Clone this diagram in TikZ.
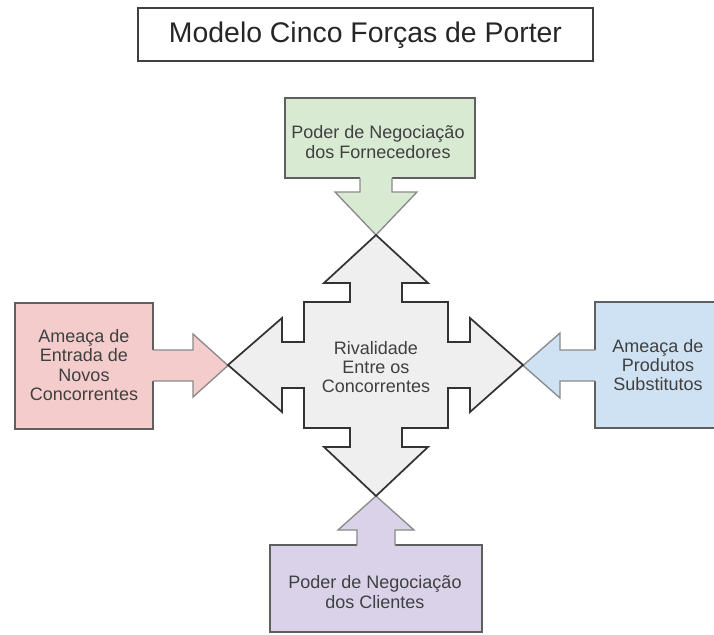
\documentclass[tikz,border=0pt]{standalone}
\usepackage{fontspec}
\setmainfont{Liberation Sans}
\usepackage{tikz}
\usetikzlibrary{calc}
\definecolor{fornecgreen}{HTML}{D9EAD3}
\definecolor{entradared}{HTML}{F4CCCC}
\definecolor{substblue}{HTML}{CFE2F3}
\definecolor{clientpurple}{HTML}{D9D2E9}
\definecolor{rivalgray}{HTML}{EFEFEF}
\definecolor{boxline}{HTML}{5F5F5F}
\definecolor{arrowline}{HTML}{8A8A8A}
\definecolor{textgray}{HTML}{404040}
\tikzset{
  forcetext/.style={inner sep=0.75pt, align=center, text=textgray,
    font=\fontsize{13.5}{14.5}\selectfont},
  boxborder/.style={draw=boxline, line width=1.3pt},
  arrowborder/.style={draw=arrowline, line width=1pt, line join=miter},
}
\begin{document}
\begin{tikzpicture}[x=0.75pt,y=0.75pt,yscale=-1,xscale=1]
  \useasboundingbox (0,0) rectangle (714,635);

  %Shape: Rectangle [title]
  \draw [line width=1.3pt, draw=black!75] (138,8) rectangle (593,61);
  % Text Node
  \node (title) at (365.5,35) [inner sep=0.75pt, text=black!85, font=\fontsize{21.3}{24}\selectfont] {Modelo Cinco Forças de Porter};

  %Shape: Rectangle [fornecedores]
  \draw [boxborder, fill=fornecgreen] (285,98) rectangle (475,178);
  %Shape: Rectangle [entrantes]
  \draw [boxborder, fill=entradared] (15,303) rectangle (153,429);
  %Shape: Rectangle [substitutos]
  \draw [boxborder, fill=substblue] (595,302) rectangle (724,428);
  %Shape: Rectangle [clientes]
  \draw [boxborder, fill=clientpurple] (270,545) rectangle (482,632);

  %Shape: Arrow down from fornecedores
  \fill [fornecgreen] (360,174) -- (360,192) -- (335,192) -- (376,235) -- (417,192) -- (392,192) -- (392,174) -- cycle;
  \draw [arrowborder] (360,178) -- (360,192) -- (335,192) -- (376,235) -- (417,192) -- (392,192) -- (392,178);
  %Shape: Arrow right from entrantes
  \fill [entradared] (149,350) -- (193,350) -- (193,334) -- (228,365.5) -- (193,397) -- (193,381) -- (149,381) -- cycle;
  \draw [arrowborder] (153,350) -- (193,350) -- (193,334) -- (228,365.5) -- (193,397) -- (193,381) -- (153,381);
  %Shape: Arrow left from substitutos
  \fill [substblue] (599,350) -- (560,350) -- (560,333) -- (523,365.5) -- (560,398) -- (560,381) -- (599,381) -- cycle;
  \draw [arrowborder] (595,350) -- (560,350) -- (560,333) -- (523,365.5) -- (560,398) -- (560,381) -- (595,381);
  %Shape: Arrow up from clientes
  \fill [clientpurple] (357,549) -- (357,530) -- (338,530) -- (376,496) -- (414,530) -- (395,530) -- (395,549) -- cycle;
  \draw [arrowborder] (357,545) -- (357,530) -- (338,530) -- (376,496) -- (414,530) -- (395,530) -- (395,545);

  %Shape: Quad Arrow [rivalidade]
  \draw [line width=1.3pt, draw=black!80, fill=rivalgray, line join=miter]
    (376,235) -- (428,283) -- (402,283) -- (402,302) -- (448,302) -- (448,342)
    -- (470,342) -- (470,318) -- (523,365) -- (470,412) -- (470,388) -- (448,388)
    -- (448,428) -- (402,428) -- (402,447) -- (428,447) -- (376,496) -- (324,447)
    -- (350,447) -- (350,428) -- (304,428) -- (304,388) -- (282,388) -- (282,412)
    -- (228,365) -- (282,318) -- (282,342) -- (304,342) -- (304,302) -- (350,302)
    -- (350,283) -- (324,283) -- cycle;

  % Text Node
  \node (fornecedores) at (378,142) [forcetext] {Poder de Negociação\\dos Fornecedores};
  % Text Node
  \node (entrantes) at (84,365) [forcetext] {Ameaça de\\Entrada de\\Novos\\Concorrentes};
  % Text Node
  \node (substitutos) at (658,365) [forcetext] {Ameaça de\\Produtos\\Substitutos};
  % Text Node
  \node (clientes) at (375,592) [forcetext] {Poder de Negociação\\dos Clientes};
  % Text Node
  \node (rivalidade) at (376,367) [forcetext] {Rivalidade\\Entre os\\Concorrentes};
\end{tikzpicture}
\end{document}
